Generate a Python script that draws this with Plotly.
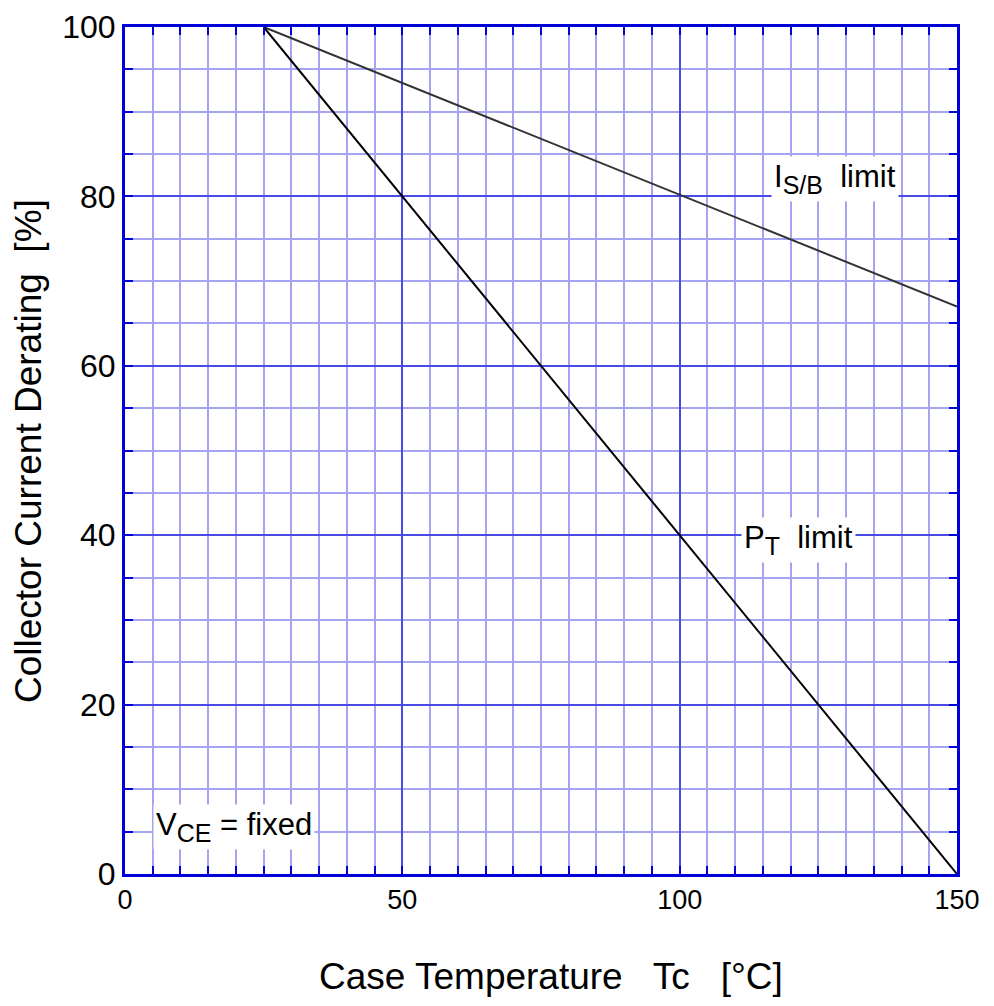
import plotly.graph_objects as go

# Data
temp_isb = [25, 150]
isb_limit = [100, 67]
temp_pt = [25, 150]
pt_limit = [100, 0]

x_ticks = [0, 50, 100, 150]
y_ticks = [0, 20, 40, 60, 80, 100]

x_title = "Case Temperature   Tc   [°C]"
y_title = "Collector Current Derating  [%]"

FONT = "Liberation Sans, Arial, sans-serif"
FRAME = "#0000d8"
MAJOR = "#4a4ae6"
MINOR = "#a4a4f2"

fig = go.Figure()
fig.add_trace(go.Scatter(x=temp_isb, y=isb_limit, mode="lines",
                         line=dict(color="#333333", width=2), showlegend=False))
fig.add_trace(go.Scatter(x=temp_pt, y=pt_limit, mode="lines",
                         line=dict(color="#000000", width=2), showlegend=False))


def sub(s):
    return "<sub><span style='font-size:25px'>" + s + "</span></sub>"


ann_font = dict(family=FONT, size=31, color="black")
fig.add_annotation(x=128.0, y=82, text="I" + sub("S/B") + "  limit", showarrow=False,
                   font=ann_font, bgcolor="white", borderpad=2)
fig.add_annotation(x=121.5, y=39.4, text="P" + sub("T") + "  limit", showarrow=False,
                   font=ann_font, bgcolor="white", borderpad=2)
fig.add_annotation(x=19.6, y=5.6, text="V" + sub("CE") + " = fixed", showarrow=False,
                   font=ann_font, bgcolor="white", borderpad=2)

# axis titles
fig.add_annotation(x=0.512, y=-0.121, xref="paper", yref="paper",
                   text=x_title, showarrow=False, xanchor="center", yanchor="middle",
                   font=dict(family=FONT, size=37, color="black"))
fig.add_annotation(x=-0.116, y=0.5, xref="paper", yref="paper", textangle=-90,
                   text=y_title, showarrow=False, xanchor="center", yanchor="middle",
                   font=dict(family=FONT, size=37, color="black"))

axis_common = dict(
    showline=True, linecolor=FRAME, linewidth=3, mirror="ticks",
    ticks="inside", ticklen=8, tickcolor=FRAME, tickwidth=2,
    showgrid=True, gridcolor=MAJOR, gridwidth=1.5,
    zeroline=False, automargin=False,
)

fig.update_xaxes(
    range=[0, 150], tickvals=x_ticks,
    tickfont=dict(family=FONT, size=27, color="black"),
    minor=dict(dtick=5, tick0=0, showgrid=True, gridcolor=MINOR, gridwidth=1.5,
               ticks="inside", ticklen=8, tickcolor=FRAME, tickwidth=2),
    **axis_common,
)
fig.update_yaxes(
    range=[0, 100], tickvals=y_ticks,
    tickfont=dict(family=FONT, size=32, color="black"),
    minor=dict(dtick=5, tick0=0, showgrid=True, gridcolor=MINOR, gridwidth=1.5,
               ticks="inside", ticklen=8, tickcolor=FRAME, tickwidth=2),
    **axis_common,
)

fig.update_layout(
    width=994, height=1006,
    margin=dict(l=117, r=45, t=19, b=140),
    plot_bgcolor="white", paper_bgcolor="white",
    font=dict(family=FONT, color="black"),
)

fig.write_html("out.html")
